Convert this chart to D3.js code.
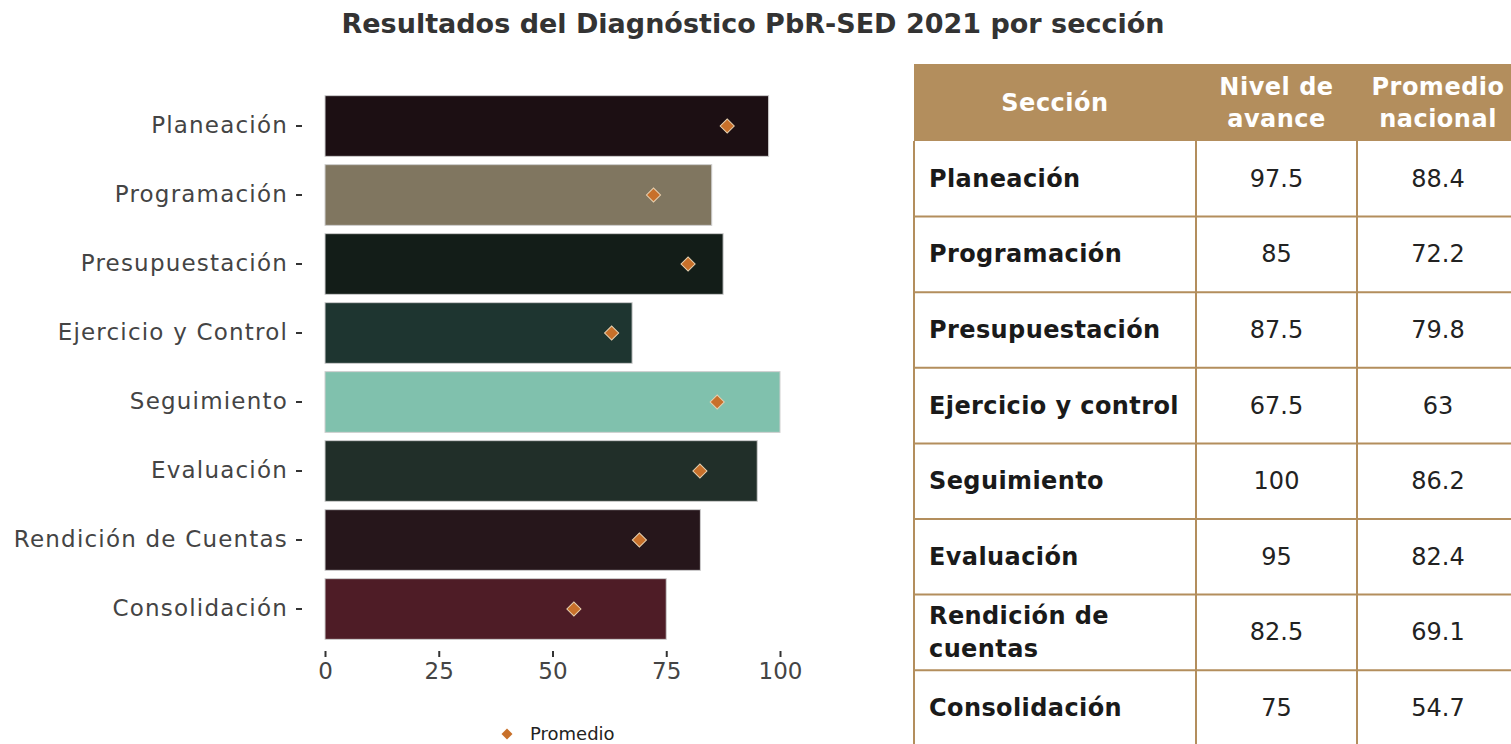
<!DOCTYPE html>
<html>
<head>
<meta charset="utf-8">
<script src="https://cdn.jsdelivr.net/npm/d3@7"></script>
<style>
  body { margin: 0; background: #fff; }
  svg { display: block; font-family: "DejaVu Sans", sans-serif; }
</style>
</head>
<body>
<div id="chart"></div>
<script>
// Data
const sections = ["Planeación", "Programación", "Presupuestación", "Ejercicio y Control",
  "Seguimiento", "Evaluación", "Rendición de Cuentas", "Consolidación"];
const tableLabels = ["Planeación", "Programación", "Presupuestación", "Ejercicio y control",
  "Seguimiento", "Evaluación", "Rendición de|cuentas", "Consolidación"];
const avance = [97.5, 85, 87.5, 67.5, 100, 95, 82.5, 75];
const promedio = [88.4, 72.2, 79.8, 63, 86.2, 82.4, 69.1, 54.7];
const barColors = ["#1c0f13", "#807660", "#131d18", "#1e3530", "#80c1ad", "#212f29", "#26161b", "#4e1c26"];
const xTicks = [0, 25, 50, 75, 100];
const tableHeaders = ["Sección", "Nivel de|avance", "Promedio|nacional"];

const W = 1511, H = 744;
const svg = d3.select("#chart").append("svg")
  .attr("width", W).attr("height", H);

// Title
svg.append("text")
  .attr("x", 753).attr("y", 33)
  .attr("text-anchor", "middle")
  .style("font-size", "27px")
  .style("font-weight", "bold")
  .attr("fill", "#333")
  .text("Resultados del Diagnóstico PbR-SED 2021 por sección");

// Bar chart scales
const x = d3.scaleLinear().domain([0, 100]).range([325, 780]);
const y = d3.scaleBand().domain(sections).range([91.5, 643.5]).paddingInner(0.12).paddingOuter(0.06);

const plot = svg.append("g");

plot.selectAll(".bar")
  .data(sections)
  .enter()
  .append("rect")
  .attr("class", "bar")
  .attr("x", x(0))
  .attr("y", d => y(d))
  .attr("width", (d, i) => x(avance[i]) - x(0))
  .attr("height", y.bandwidth())
  .attr("fill", (d, i) => barColors[i])
  .attr("stroke", "#cfcfcf")
  .attr("stroke-width", 1);

const diamond = d3.symbol().type(d3.symbolSquare).size(100);
plot.selectAll(".prom")
  .data(sections)
  .enter()
  .append("path")
  .attr("class", "prom")
  .attr("d", diamond)
  .attr("transform", (d, i) => `translate(${x(promedio[i])},${y(d) + y.bandwidth() / 2}) rotate(45)`)
  .attr("fill", "#c8702a")
  .attr("stroke", "#e6cfae")
  .attr("stroke-width", 1);

// Y axis
const yAxis = svg.append("g")
  .attr("transform", "translate(302,0)")
  .call(d3.axisLeft(y).tickSize(6).tickPadding(8));
yAxis.select(".domain").remove();
yAxis.selectAll("line").attr("stroke", "#333").attr("stroke-width", 2);
yAxis.selectAll("text")
  .style("font-size", "23px")
  .style("letter-spacing", "1.2px")
  .style("font-family", "\"DejaVu Sans\", sans-serif")
  .attr("fill", "#444");

// X axis
const xAxis = svg.append("g")
  .attr("transform", "translate(0,651)")
  .call(d3.axisBottom(x).tickValues(xTicks).tickSize(6).tickPadding(6));
xAxis.select(".domain").remove();
xAxis.selectAll("line").attr("stroke", "#333").attr("stroke-width", 2);
xAxis.selectAll("text")
  .style("font-size", "23px")
  .style("font-family", "\"DejaVu Sans\", sans-serif")
  .attr("fill", "#444");

// Legend
const legend = svg.append("g").attr("transform", "translate(507,734)");
legend.append("path")
  .attr("d", d3.symbol().type(d3.symbolSquare).size(60))
  .attr("transform", "rotate(45)")
  .attr("fill", "#c8702a");
legend.append("text")
  .attr("x", 23).attr("y", 6)
  .style("font-size", "18px")
  .attr("fill", "#222")
  .text("Promedio");

// Table
const gold = "#b38e5d";
const colX = [914, 1196, 1357, 1519];
const headTop = 64, headBottom = 141;
const rows = d3.scaleBand().domain(d3.range(sections.length)).range([headBottom, headBottom + 8 * 75.6]);
const table = svg.append("g");

table.append("rect")
  .attr("x", colX[0]).attr("y", headTop)
  .attr("width", colX[3] - colX[0]).attr("height", headBottom - headTop)
  .attr("fill", gold);

function multiline(sel, str, cx, cy, lh) {
  const parts = str.split("|");
  parts.forEach((p, k) => {
    sel.append("tspan")
      .attr("x", cx)
      .attr("y", cy + (k - (parts.length - 1) / 2) * lh)
      .text(p);
  });
}

tableHeaders.forEach((h, j) => {
  const t = table.append("text")
    .attr("text-anchor", "middle")
    .attr("dominant-baseline", "central")
    .style("font-size", "24px")
    .style("letter-spacing", "0.5px")
    .style("font-weight", "bold")
    .attr("fill", "#fff");
  multiline(t, h, (colX[j] + colX[j + 1]) / 2, (headTop + headBottom) / 2, 32);
});

// grid lines
table.selectAll(".hline")
  .data(d3.range(sections.length))
  .enter()
  .append("line")
  .attr("x1", colX[0]).attr("x2", colX[3])
  .attr("y1", d => rows(d) + rows.bandwidth())
  .attr("y2", d => rows(d) + rows.bandwidth())
  .attr("stroke", gold).attr("stroke-width", 2);
table.selectAll(".vline")
  .data(colX)
  .enter()
  .append("line")
  .attr("x1", d => d).attr("x2", d => d)
  .attr("y1", headBottom).attr("y2", H)
  .attr("stroke", gold).attr("stroke-width", 2);

tableLabels.forEach((lab, i) => {
  const cy = rows(i) + rows.bandwidth() / 2;
  const t = table.append("text")
    .attr("dominant-baseline", "central")
    .style("font-size", "24px")
    .style("letter-spacing", "0.4px")
    .style("font-weight", "bold")
    .attr("fill", "#1a1a1a");
  multiline(t, lab, 929, cy, 33);

  table.append("text")
    .attr("x", (colX[1] + colX[2]) / 2).attr("y", cy)
    .attr("text-anchor", "middle")
    .attr("dominant-baseline", "central")
    .style("font-size", "24px")
    .attr("fill", "#222")
    .text(avance[i]);
  table.append("text")
    .attr("x", (colX[2] + colX[3]) / 2).attr("y", cy)
    .attr("text-anchor", "middle")
    .attr("dominant-baseline", "central")
    .style("font-size", "24px")
    .attr("fill", "#222")
    .text(promedio[i]);
});
</script>
</body>
</html>
